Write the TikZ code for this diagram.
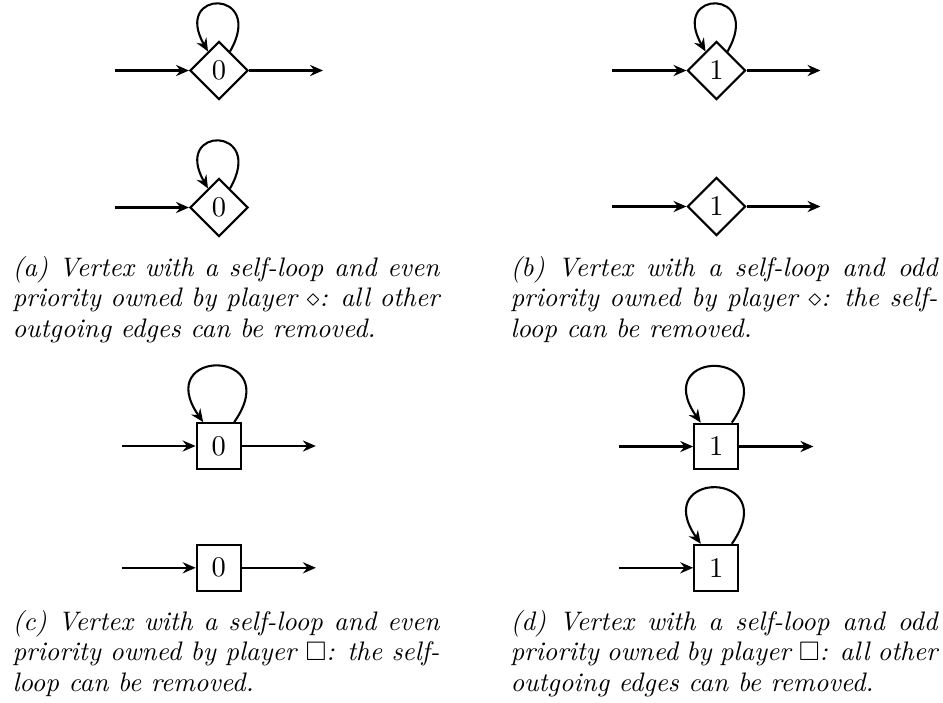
\documentclass[tikz,border=0pt]{standalone}
\usepackage{amssymb}
\usetikzlibrary{shapes.geometric,arrows.meta}
\begin{document}
\begin{tikzpicture}[x=0.3846pt,y=-0.3846pt,
  every node/.style={font=\fontsize{10.95}{13.6}\selectfont},
  edgeline/.style={thick,-{Stealth[length=5pt,width=4.3pt,inset=1.7pt]}},
  dnode/.style={draw,thick,diamond,aspect=1,inner sep=0pt,minimum width=22.3pt,minimum height=22.3pt},
  snode/.style={draw,thick,rectangle,inner sep=0pt,minimum width=17pt,minimum height=17.6pt},
  capbox/.style={anchor=base west,text width=164.2pt,align=justify,inner sep=0pt,font=\fontsize{10.3}{11.75}\selectfont\itshape},
]
\useasboundingbox (0,0) rectangle (943,702);

% (a)
\node[dnode] (A1) at (219,70.5) {0};
\node[dnode] (A2) at (219,207.5) {0};
\coordinate (a1in) at ([xshift=-1cm]A1.west);
\coordinate (a1out) at ([xshift=1cm]A1.east);
\coordinate (a2in) at ([xshift=-1cm]A2.west);
\draw[edgeline] (a1in) -- (A1);
\draw[edgeline] (A1) -- (a1out);
\draw[edgeline] (A1.60) .. controls +(60:28pt) and +(120:28pt) .. (A1.120);
\draw[edgeline] (a2in) -- (A2);
\draw[edgeline] (A2.60) .. controls +(60:28pt) and +(120:28pt) .. (A2.120);

% (b)
\node[dnode] (B1) at (716.5,70.5) {1};
\node[dnode] (B2) at (716.5,206.5) {1};
\coordinate (b1in) at ([xshift=-1cm]B1.west);
\coordinate (b1out) at ([xshift=1cm]B1.east);
\coordinate (b2in) at ([xshift=-1cm]B2.west);
\coordinate (b2out) at ([xshift=1cm]B2.east);
\draw[edgeline] (b1in) -- (B1);
\draw[edgeline] (B1) -- (b1out);
\draw[edgeline] (B1.60) .. controls +(60:28pt) and +(120:28pt) .. (B1.120);
\draw[edgeline] (b2in) -- (B2);
\draw[edgeline] (B2) -- (b2out);

% (c)
\node[snode] (C1) at (218.7,446) {0};
\node[snode] (C2) at (218.8,567.8) {0};
\coordinate (c1in) at ([xshift=-1cm]C1.west);
\coordinate (c1out) at ([xshift=1cm]C1.east);
\coordinate (c2in) at ([xshift=-1cm]C2.west);
\coordinate (c2out) at ([xshift=1cm]C2.east);
\draw[edgeline] (c1in) -- (C1);
\draw[edgeline] (C1) -- (c1out);
\draw[edgeline] (C1.57) .. controls +(55:35pt) and +(125:35pt) .. (C1.123);
\draw[edgeline] (c2in) -- (C2);
\draw[edgeline] (C2) -- (c2out);

% (d)
\node[snode] (D1) at (716.3,446.5) {1};
\node[snode] (D2) at (716.3,567.8) {1};
\coordinate (d1in) at ([xshift=-1cm]D1.west);
\coordinate (d1out) at ([xshift=1cm]D1.east);
\coordinate (d2in) at ([xshift=-1cm]D2.west);
\draw[edgeline] (d1in) -- (D1);
\draw[edgeline] (D1) -- (d1out);
\draw[edgeline] (D1.57) .. controls +(55:35pt) and +(125:35pt) .. (D1.123);
\draw[edgeline] (d2in) -- (D2);
\draw[edgeline] (D2.57) .. controls +(55:35pt) and +(125:35pt) .. (D2.123);

% captions
\node[capbox] (capa) at (12,276) {(a) Vertex with a self-loop and even\linebreak priority owned by player $\diamond$: all other\linebreak outgoing edges can be removed.};
\node[capbox] (capb) at (510,276) {(b) Vertex with a self-loop and odd\linebreak priority owned by player $\diamond$: the self-\linebreak loop can be removed.};
\node[capbox] (capc) at (12,630) {(c) Vertex with a self-loop and even\linebreak priority owned by player $\square$: the self-\linebreak loop can be removed.};
\node[capbox] (capd) at (510,630) {(d) Vertex with a self-loop and odd\linebreak priority owned by player $\square$: all other\linebreak outgoing edges can be removed.};
\end{tikzpicture}
\end{document}
